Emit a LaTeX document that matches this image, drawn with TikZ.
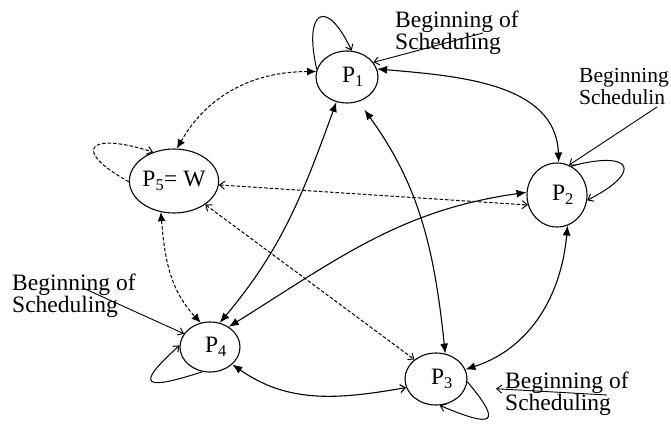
\documentclass[tikz,border=0pt]{standalone}
\usepackage{fontspec}
\setmainfont{Liberation Serif}
\usetikzlibrary{arrows.meta,shapes.geometric}

\tikzset{
  proc/.style={draw, ellipse, line width=1.1pt, inner sep=0pt, minimum width=62pt, minimum height=52pt},
  link/.style={line width=1.1pt, {Latex[length=10pt,width=8pt]}-{Latex[length=10pt,width=8pt]}},
  wait/.style={line width=1pt, dash pattern=on 3.5pt off 2pt},
  loopy/.style={line width=1pt, -{Straight Barb[length=5pt,width=8pt]}},
  start/.style={line width=0.9pt, -{Straight Barb[length=5pt,width=8pt]}},
  note/.style={anchor=north west, inner sep=0pt, align=left},
  tag/.style={xshift=6pt},
}

\begin{document}
\begin{tikzpicture}[x=1pt,y=1pt,font=\fontsize{23.5}{22}\selectfont]
\useasboundingbox (0,0) rectangle (671,423);
\clip (0,0) rectangle (671,423);

%Shape: Ellipse
\node[proc, label={[tag]center:P\textsubscript{1}}] (P1) at (347,346) {};
\node[proc, minimum width=60pt, minimum height=64pt, label={[tag]center:P\textsubscript{2}}] (P2) at (557,228) {};
\node[proc, label={[tag]center:P\textsubscript{3}}] (P3) at (436,44) {};
\node[proc, minimum width=60pt, minimum height=50pt, label={[tag]center:P\textsubscript{4}}] (P4) at (210,76) {};
\node[proc, minimum width=78pt, minimum height=64pt] (P5) at (174,242) {P\textsubscript{5}= W};

%Solid links
\draw[link] (P1.15) to[out=-5,in=92] (P2.87);
\draw[link, shorten <=10pt] (P1.-65) to[out=-54,in=96] (P3.70);
\draw[link] (P1.-113) to[out=-110,in=50] (P4.68);
\draw[link] (P2.175) to[out=188,in=32] (P4.47);
\draw[link] (P2.-71) to[out=-95,in=18] (P3.18);
\draw[line width=1.1pt, {Latex[length=10pt,width=8pt]}-{Straight Barb[length=5pt,width=8pt]}] (P4.-38) to[out=-35,in=190] (P3.196);

%Dashed links
\draw[wait, {Latex[length=9pt,width=8pt]}-{Latex[length=9pt,width=8pt]}] (P1.170) to[out=180,in=60] (P5.85);
\draw[wait, {Latex[length=9pt,width=8pt]}-{Latex[length=9pt,width=8pt]}] (P5.-113) to[out=-85,in=133] (P4.111);
\draw[wait, {Straight Barb[length=5pt,width=8pt]}-{Straight Barb[length=5pt,width=8pt]}] (P5.-5) -- (P2.199);
\draw[wait, {Straight Barb[length=5pt,width=8pt]}-{Straight Barb[length=5pt,width=8pt]}] (P5.-37) -- (P3.138);

%Self loops
\draw[loopy] (P1.166) to[out=103,in=115,looseness=3.9] (P1.80);
\draw[loopy] (P2.64) to[out=15,in=27,looseness=4.3] (P2.-10);
\draw[loopy] (P3.-5) to[out=-50,in=-23,looseness=4] (P3.-82);
\draw[loopy] (P4.-107) to[out=198,in=222,looseness=4.5] (P4.177);
\draw[loopy, wait] (P5.181) to[out=151,in=162,looseness=4.5] (P5.126);

% Text Node
\node[note] (b1) at (395,412) {Beginning of\\Scheduling};
\node[note, font=\fontsize{21.5}{22}\selectfont] (b2) at (579,355) {Beginning\\Schedulin};
\node[note] (b3) at (12,149) {Beginning of\\Scheduling};
\node[note] (b4) at (505,51) {Beginning of\\Scheduling};

%Start arrows
\coordinate (s1) at (483,390);
\coordinate (s2) at (657,316);
\coordinate (s3) at (607,28);
\coordinate (s4) at (83,135);
\draw[start] (s1) -- (P1.29);
\draw[start] (s2) -- (P2.68);
\draw[start, shorten >=30pt] (s3) -- (P3.-15);
\draw[start] (s4) -- (P4.153);

\end{tikzpicture}
\end{document}
